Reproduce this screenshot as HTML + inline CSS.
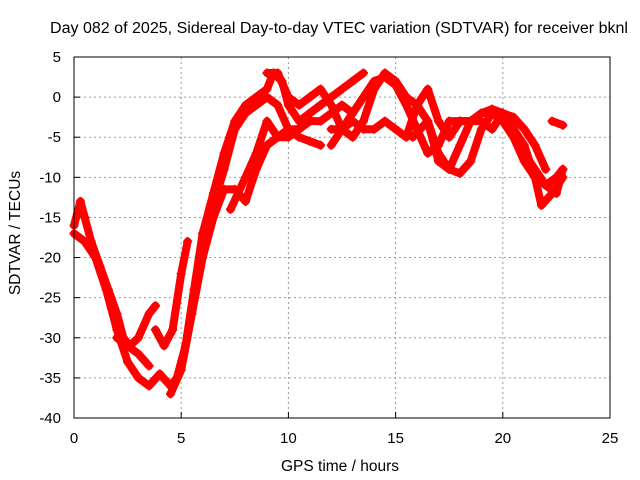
<!DOCTYPE html>
<html><head><meta charset="utf-8"><style>
body{margin:0;background:#fff;}
svg{display:block;font-family:"Liberation Sans",sans-serif;}
</style></head><body>
<svg id="chart" width="640" height="480" viewBox="0 0 640 480">
<text x="50" y="33" font-size="15.5" textLength="578" lengthAdjust="spacingAndGlyphs" fill="#000">Day 082 of 2025, Sidereal Day-to-day VTEC variation (SDTVAR) for receiver bknl</text>
<g id="grid"></g>
<g id="axes"></g>
<g id="series"></g>
<rect x="74" y="57" width="536" height="361" fill="none" stroke="#000" stroke-width="1"/>
<text x="340" y="471" font-size="15.5" text-anchor="middle">GPS time / hours</text>
<text transform="translate(20,233) rotate(-90)" font-size="15.5" text-anchor="middle">SDTVAR / TECUs</text>
</svg>
<script>
const xTicks=[0,5,10,15,20,25];
const yTicks=[5,0,-5,-10,-15,-20,-25,-30,-35,-40];
const s1=[[0,-17],[0.5,-18],[1,-20],[1.5,-24],[2,-29],[2.5,-33],[3,-35],[3.5,-36],[4,-34.5],[4.5,-36],[4.8,-35],[5.2,-31],[5.6,-24],[6,-17],[6.5,-12],[7,-7],[7.5,-3],[8,-1],[8.5,0],[9,1],[9.3,3],[9.7,2],[10,-1],[10.5,-3],[11,-2],[11.5,-1],[12,0]];
const s2=[[0,-16],[0.3,-13],[0.5,-15],[0.8,-18],[1.2,-21],[1.6,-24],[2,-27],[2.3,-30],[2.6,-31],[3,-30],[3.5,-27],[3.8,-26]];
const s3=[[2,-30],[2.5,-31],[3,-32],[3.5,-33.5]];
const s4=[[3.8,-29],[4.2,-31],[4.6,-29],[5,-22],[5.3,-18]];
const s5=[[4.5,-37],[5,-34],[5.5,-27],[6,-20],[6.5,-15],[7,-11.5],[7.5,-11.5],[8,-13]];
const s6=[[6,-18],[7,-9],[7.5,-4],[8,-2],[8.5,-1],[9,0],[9.5,-1],[10,-4],[10.5,-5],[11,-5.5],[11.5,-6]];
const s7=[[7.3,-14],[8,-10],[8.5,-7],[9,-3],[9.5,-5],[10,-5],[10.5,-4],[11,-2],[11.5,-1],[12,0],[12.5,1],[13,2],[13.5,3]];
const s8=[[8,-13],[8.5,-9],[9,-6],[9.5,-5],[10,-4],[10.5,-4],[11,-3],[11.5,-3],[12,-2],[12.5,-1],[13,-2]];
const s9=[[9,3],[9.5,3],[10,0],[10.5,-1],[11,0],[11.5,1],[12,-1],[12.5,-4],[13,-5],[13.5,-3],[14,1],[14.5,3],[15,2],[15.5,0],[16,-1],[16.5,-3],[17,-7],[17.5,-9],[18,-9.5],[18.5,-8],[19,-4],[19.5,-2],[20,-3],[20.5,-4],[21,-6],[21.5,-10],[21.8,-13.5],[22.3,-12],[22.8,-10]];
const s10=[[12,-6],[12.5,-4],[13,-2],[13.5,0],[14,2],[14.5,2.5],[15,1.5],[15.5,-1],[16,-4],[16.5,-7],[17,-6],[17.5,-3],[18,-3],[18.5,-3],[19,-2],[19.5,-2],[20,-3],[20.5,-5],[21,-8],[21.5,-10],[22,-11],[22.5,-10],[22.8,-9]];
const s11=[[12,-4],[12.5,-4],[13,-3],[13.5,-4],[14,-4],[14.5,-3],[15,-4],[15.5,-5],[16,-1],[16.5,1],[17,-3],[17.5,-5],[18,-3],[18.5,-3],[19,-2],[19.5,-1.5],[20,-2],[20.5,-4],[21,-7],[21.5,-9],[22,-11],[22.5,-12],[22.8,-9]];
const s12=[[15.8,-5],[16.5,-3],[17,-8],[17.5,-9],[18,-6],[18.5,-3],[19,-3],[19.5,-4],[20,-2],[20.5,-2.5],[21,-4],[21.5,-6],[22,-9]];
const s13=[[22.3,-3],[22.8,-3.5]];
const allSeries=[s1,s2,s3,s4,s5,s6,s7,s8,s9,s10,s11,s12,s13];
const NS="http://www.w3.org/2000/svg";
const X=v=>74+v*536/25, Y=v=>57+(5-v)*361/45;
const grid=document.getElementById('grid'),axes=document.getElementById('axes'),ser=document.getElementById('series');
function mk(t,a,p){const e=document.createElementNS(NS,t);for(const k in a)e.setAttribute(k,a[k]);p.appendChild(e);return e;}
xTicks.forEach(t=>{
 if(t>0&&t<25){const g=mk('line',{x1:X(t),x2:X(t),y1:57,y2:418,stroke:'#999','stroke-dasharray':'2,3'},grid);
 }
 const tk=mk('line',{x1:X(t),x2:X(t),y1:418,y2:412,stroke:'#000'},axes);
 
 const l=mk('text',{x:X(t),y:443,'font-size':15,'text-anchor':'middle'},axes);l.textContent=t;
 
});
yTicks.forEach(t=>{
 if(t<5&&t>-40){const g=mk('line',{x1:74,x2:610,y1:Y(t),y2:Y(t),stroke:'#999','stroke-dasharray':'2,3'},grid);
 }
 const tk=mk('line',{x1:74,x2:80,y1:Y(t),y2:Y(t),stroke:'#000'},axes);
 
 const l=mk('text',{x:61,y:Y(t)+5,'font-size':15,'text-anchor':'end'},axes);l.textContent=t;
 
});
allSeries.forEach((s,i)=>{
 const pl=mk('polyline',{points:s.map(p=>X(p[0])+','+Y(p[1])).join(' '),fill:'none',stroke:'#f00','stroke-width':8,'stroke-linejoin':'round','stroke-linecap':'round'},ser);
 
 
 s.forEach(p=>{
  const m=mk('path',{d:`M${X(p[0])-4.5},${Y(p[1])}h9M${X(p[0])},${Y(p[1])-4.5}v9`,stroke:'#f00','stroke-width':2},ser);
  
  
 });
});
</script>
</body></html>
